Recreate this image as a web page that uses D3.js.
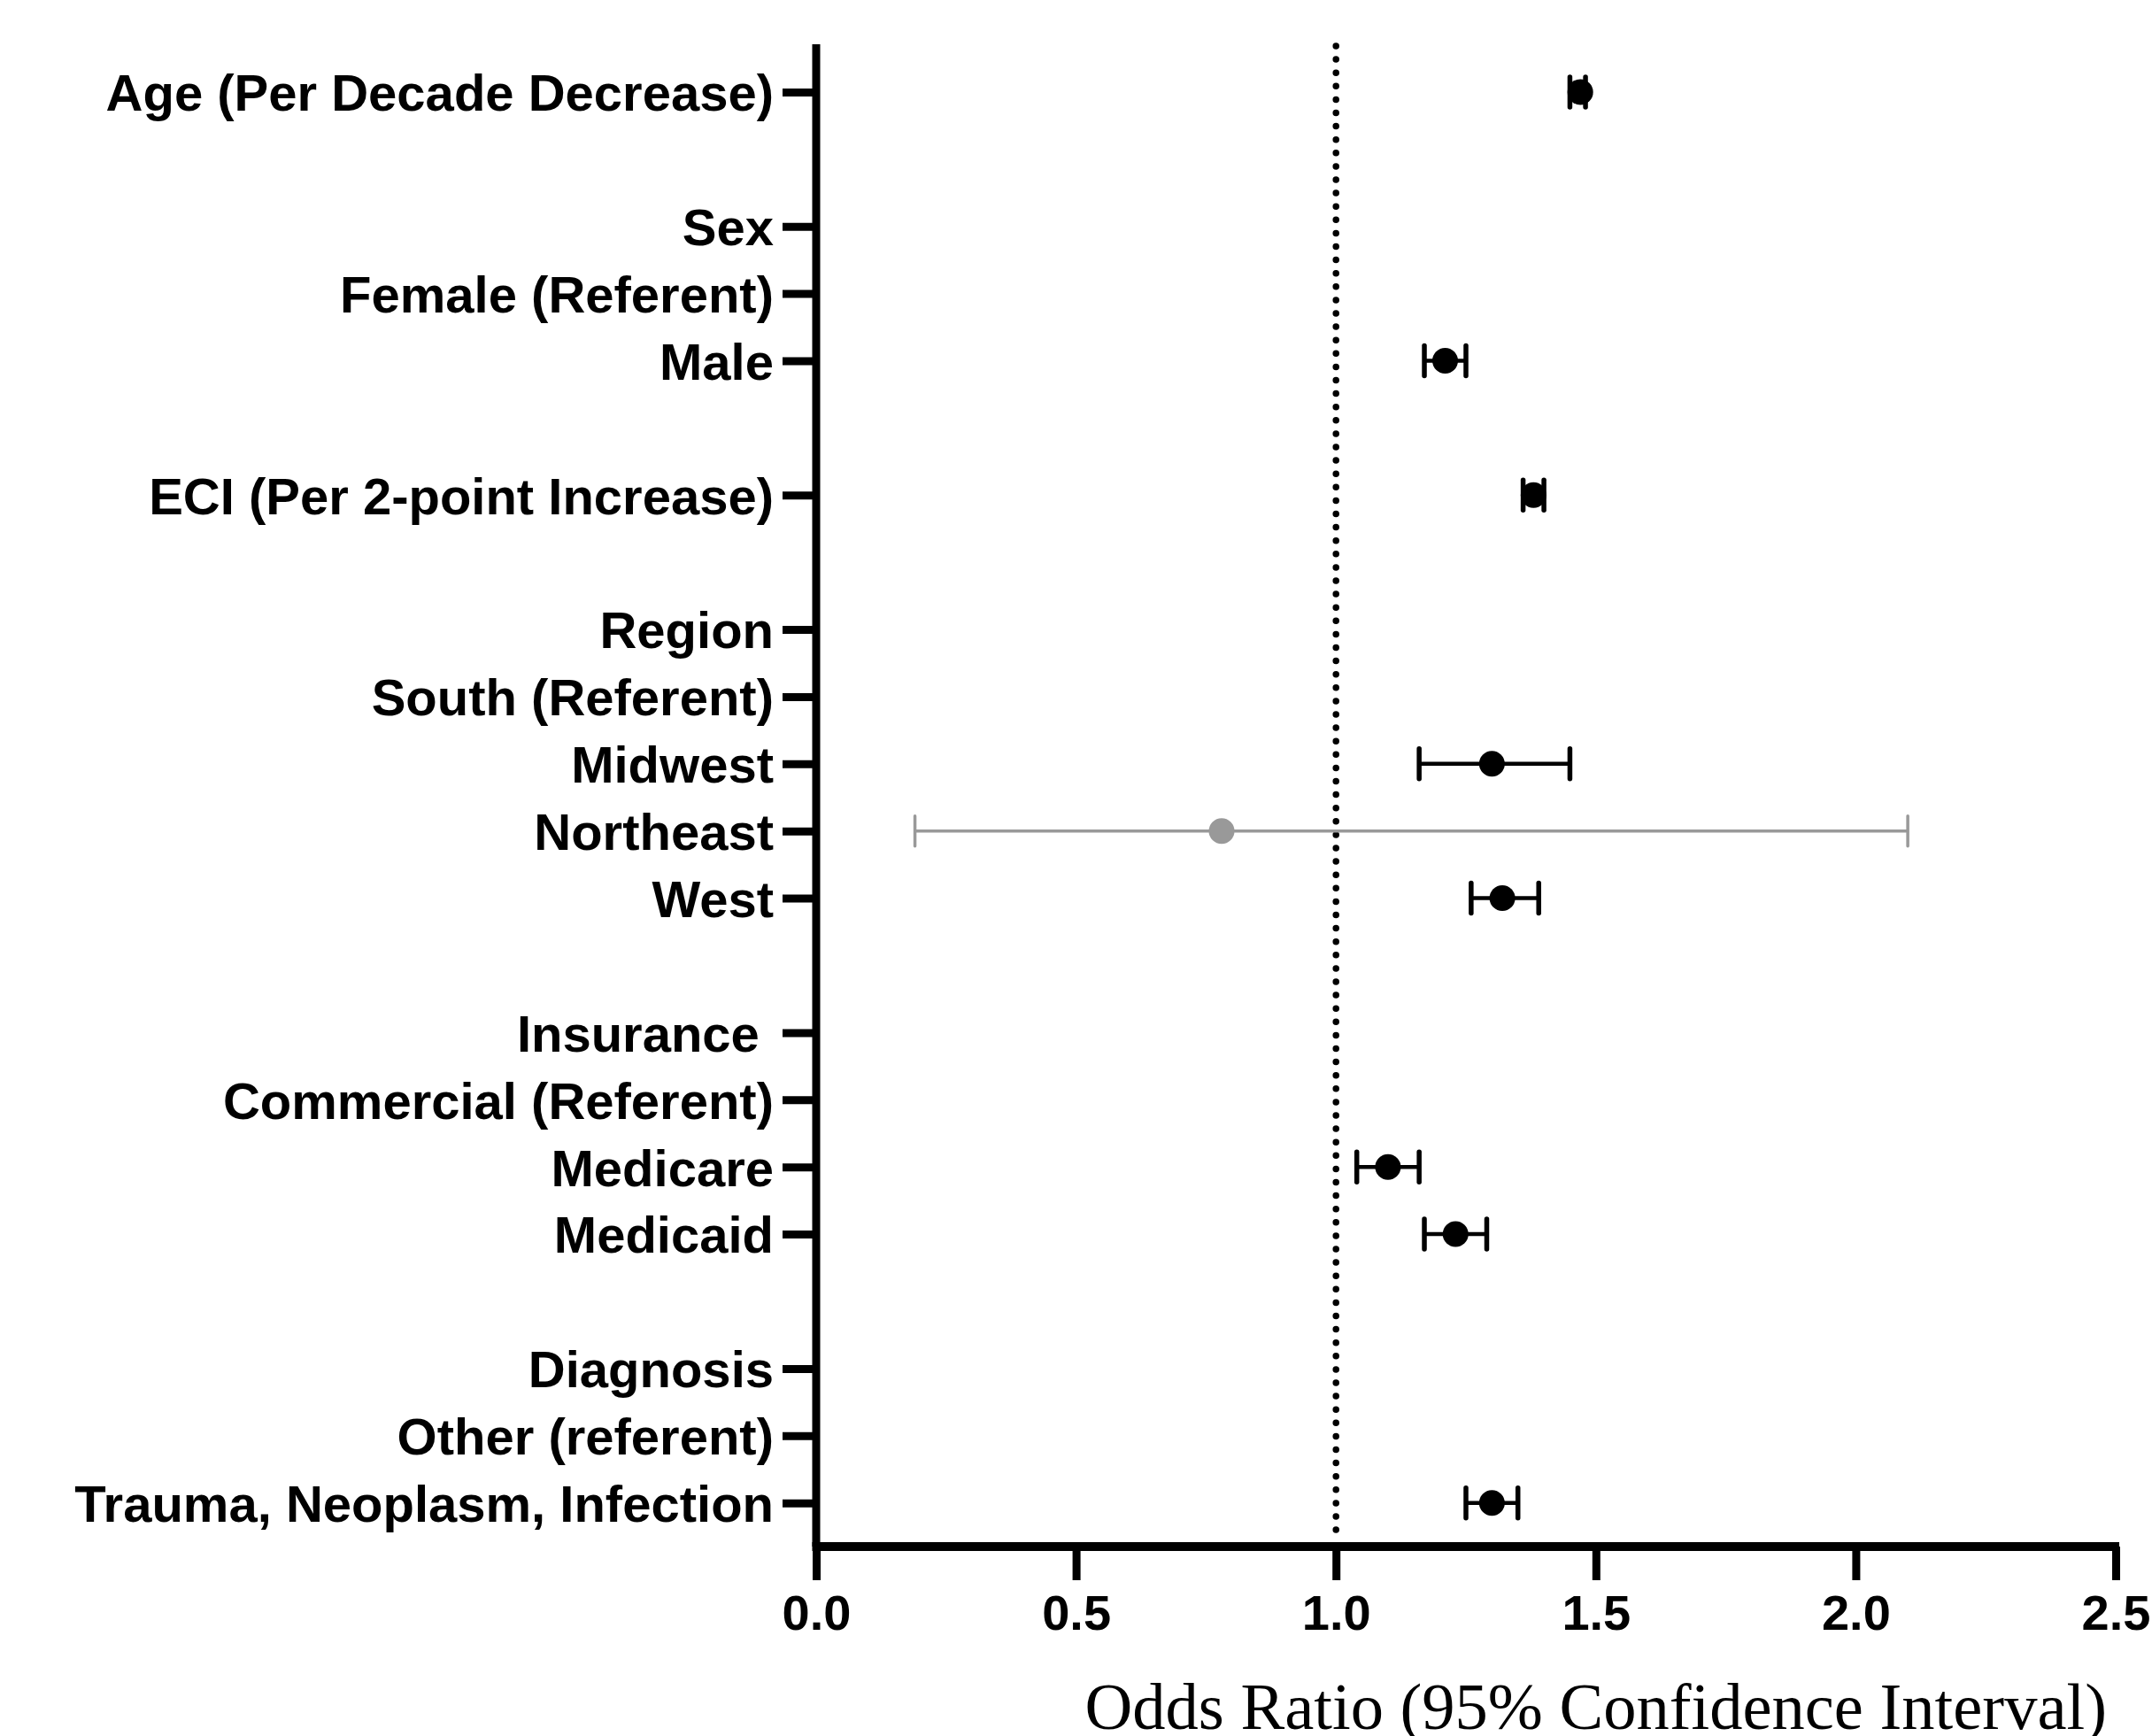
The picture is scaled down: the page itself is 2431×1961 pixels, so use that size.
<!DOCTYPE html>
<html>
<head>
<meta charset="utf-8">
<script src="https://cdn.jsdelivr.net/npm/d3@7"></script>
<style>
  body { margin: 0; background: #fff; }
  svg { display: block; }
</style>
</head>
<body>
<div id="chart"></div>
<script>
const rowLabels = [
  "Age (Per Decade Decrease)", "",
  "Sex", "Female (Referent)", "Male", "",
  "ECI (Per 2-point Increase)", "",
  "Region", "South (Referent)", "Midwest", "Northeast", "West", "",
  "Insurance ", "Commercial (Referent)", "Medicare", "Medicaid", "",
  "Diagnosis", "Other (referent)", "Trauma, Neoplasm, Infection"
];
const oddsRatio = [1.47, null, null, null, 1.21, null, 1.38, null, null, null, 1.30, 0.78, 1.32, null, null, null, 1.10, 1.23, null, null, null, 1.30];
const ciLower   = [1.45, null, null, null, 1.17, null, 1.36, null, null, null, 1.16, 0.19, 1.26, null, null, null, 1.04, 1.17, null, null, null, 1.25];
const ciUpper   = [1.48, null, null, null, 1.25, null, 1.40, null, null, null, 1.45, 2.10, 1.39, null, null, null, 1.16, 1.29, null, null, null, 1.35];
const xTicks = [0, 0.5, 1.0, 1.5, 2.0, 2.5];
const xLabel = "Odds Ratio (95% Confidence Interval)";

const width = 2431, height = 1961;
const plotLeft = 922, plotRight = 2390, plotTop = 50, plotBottom = 1747;

const x = d3.scaleLinear([0, 2.5], [plotLeft, plotRight]);
const y = d3.scaleLinear([-0.71, 21.65], [plotTop, plotBottom]);

const svg = d3.select("#chart").append("svg")
  .attr("width", width)
  .attr("height", height)
  .attr("viewBox", [0, 0, width, height]);

const sans = "'Liberation Sans', Arial, Helvetica, sans-serif";

// reference line at OR = 1
svg.append("line")
  .attr("x1", x(1)).attr("x2", x(1))
  .attr("y1", plotTop + 2).attr("y2", plotBottom - 8)
  .attr("stroke", "#000")
  .attr("stroke-width", 7.5)
  .attr("stroke-linecap", "round")
  .attr("stroke-dasharray", "0 15.1");

// y-axis
const labelled = d3.range(rowLabels.length).filter(i => rowLabels[i] !== "");
svg.append("g")
  .attr("transform", `translate(${plotLeft},0)`)
  .call(d3.axisLeft(y).tickValues(labelled).tickFormat(i => rowLabels[i])
    .tickSize(38).tickSizeOuter(0).tickPadding(10))
  .call(g => g.select(".domain").attr("stroke-width", 9).attr("d", `M0,${plotTop}V${plotBottom}`))
  .call(g => g.selectAll(".tick line").attr("stroke-width", 9))
  .call(g => g.selectAll(".tick text")
    .attr("font-family", sans)
    .attr("font-weight", "bold")
    .attr("font-size", 58)
    .attr("fill", "#000")
    .attr("dy", "0.36em")
    .style("white-space", "pre"));

// x-axis
svg.append("g")
  .attr("transform", `translate(0,${plotBottom})`)
  .call(d3.axisBottom(x).tickValues(xTicks).tickFormat(d3.format(".1f"))
    .tickSize(38).tickSizeOuter(0).tickPadding(16))
  .call(g => g.select(".domain").attr("stroke-width", 10).attr("d", `M${plotLeft - 4.5},0H${plotRight + 4}`))
  .call(g => g.selectAll(".tick line").attr("stroke-width", 9))
  .call(g => g.selectAll(".tick text")
    .attr("font-family", sans)
    .attr("font-weight", "bold")
    .attr("font-size", 56)
    .attr("fill", "#000"));

svg.append("text")
  .attr("x", 2380)
  .attr("y", 1953)
  .attr("text-anchor", "end")
  .attr("font-family", "'Liberation Serif', 'Times New Roman', serif")
  .attr("font-size", 74.5)
  .attr("fill", "#000")
  .text(xLabel);

// estimates with confidence intervals
const rows = d3.range(rowLabels.length).filter(i => oddsRatio[i] !== null);
const crossesOne = i => ciLower[i] <= 1 && ciUpper[i] >= 1;
const colour = i => crossesOne(i) ? "#999999" : "#000000";
const barW = i => crossesOne(i) ? 3.5 : 4.5;
const capW = i => crossesOne(i) ? 3.5 : 5.5;
const capH = 17;

const est = svg.append("g").selectAll("g")
  .data(rows)
  .join("g")
  .attr("stroke", colour)
  .attr("fill", colour);

est.append("line")
  .attr("x1", i => x(ciLower[i])).attr("x2", i => x(ciUpper[i]))
  .attr("y1", i => y(i)).attr("y2", i => y(i))
  .attr("stroke-width", barW);

est.append("line")
  .attr("x1", i => x(ciLower[i])).attr("x2", i => x(ciLower[i]))
  .attr("y1", i => y(i) - capH).attr("y2", i => y(i) + capH)
  .attr("stroke-width", capW)
  .attr("stroke-linecap", "round");

est.append("line")
  .attr("x1", i => x(ciUpper[i])).attr("x2", i => x(ciUpper[i]))
  .attr("y1", i => y(i) - capH).attr("y2", i => y(i) + capH)
  .attr("stroke-width", capW)
  .attr("stroke-linecap", "round");

est.append("circle")
  .attr("cx", i => x(oddsRatio[i]))
  .attr("cy", i => y(i))
  .attr("r", 14.5)
  .attr("stroke", "none");
</script>
</body>
</html>
